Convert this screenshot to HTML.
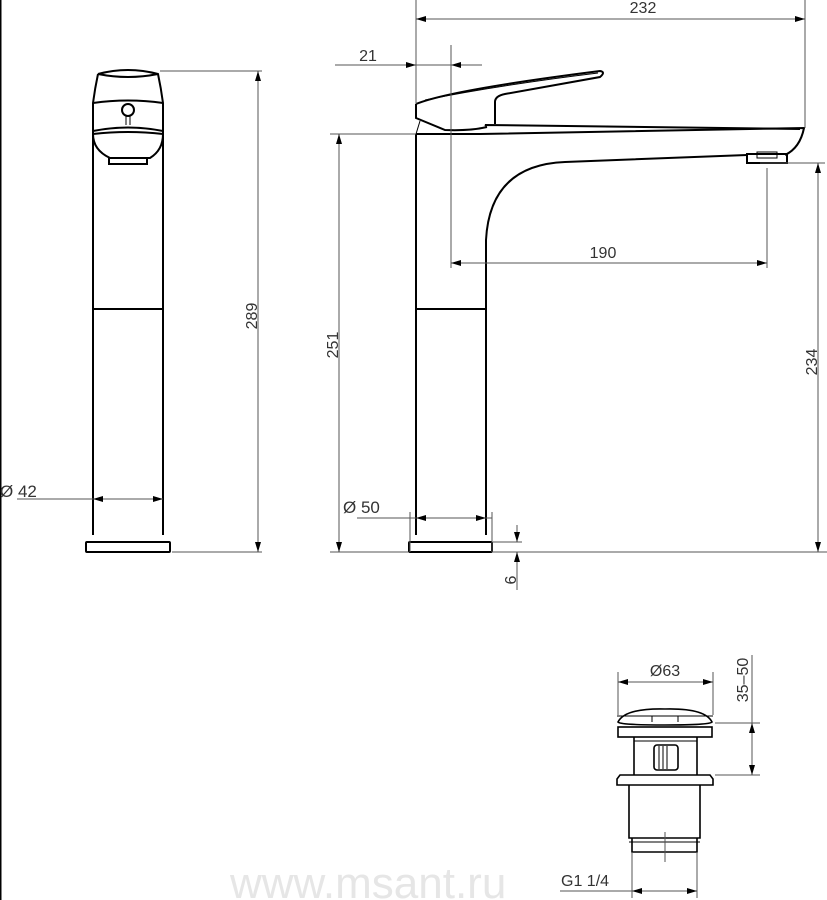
<!DOCTYPE html>
<html><head><meta charset="utf-8"><style>html,body{margin:0;padding:0;background:#fff;}svg{display:block}</style></head>
<body>
<svg width="827" height="900" viewBox="0 0 827 900" xmlns="http://www.w3.org/2000/svg" font-family="Liberation Sans, DejaVu Sans, sans-serif">
<defs>
<marker id="a" viewBox="0 0 10 6" refX="10" refY="3" markerWidth="10" markerHeight="6" markerUnits="userSpaceOnUse" orient="auto-start-reverse"><path d="M0,0L10,3L0,6z" fill="#000"/></marker>
</defs>
<line x1="0.5" y1="0" x2="0.5" y2="900" stroke="#000" stroke-width="2"/>
<text x="230" y="898" font-size="44" fill="#e6e6e6">www.msant.ru</text>

<!-- LEFT FAUCET -->
<g fill="none" stroke="#000" stroke-width="2">
<path d="M98,74 Q128,66 158,74 Q161,88 163,103 L163,535 M98,74 Q95,88 93,103 L93,535"/>
<path d="M98,74 Q128,80 158,74"/>
<path d="M93,103 Q128,98 163,103"/>
<path d="M93,131 Q128,124 163,131"/>
<circle cx="128" cy="110" r="6" fill="#fff"/>
<path d="M126,116 L126,125 M130,116 L130,125" stroke-width="1"/>
<path d="M93,134 Q128,130 163,134 Q163,150 150,158 L110,158 Q93,150 93,134z"/>
<rect x="109" y="158" width="38" height="6"/>
<line x1="93" y1="309" x2="163" y2="309"/>
<rect x="86" y="542" width="84" height="10" rx="1"/>
</g>
<g stroke="#555" stroke-width="1" fill="none">
<line x1="160" y1="71" x2="262" y2="71"/>
<line x1="172" y1="552" x2="262" y2="552"/>
<line x1="258" y1="71" x2="258" y2="552" marker-start="url(#a)" marker-end="url(#a)"/>
<line x1="17" y1="499" x2="163" y2="499"/>
<line x1="93" y1="499" x2="108" y2="499" marker-start="url(#a)"/>
<line x1="148" y1="499" x2="163" y2="499" marker-end="url(#a)"/>
</g>
<text x="0" y="497" font-size="17" fill="#333">Ø 42</text>
<text transform="translate(257,316) rotate(-90)" text-anchor="middle" font-size="16" fill="#333">289</text>

<!-- MIDDLE FAUCET -->
<g fill="none" stroke="#000" stroke-width="2">
<path d="M416,134 L416,535 M486,535 L486,240 Q490,165 565,162 L747,155"/>
<path d="M416,134 L480,134 L804,128 Q800,148 785,155"/>
<path d="M487,126 L485,125 L800,129"/>
<path d="M416,104 Q450,90 600,71 Q606,72 600,77 L505,94 Q495,96 495,102 L495,124"/>
<path d="M416,104 L416,118 L445,130 Q470,131 487,127"/>
<path d="M425,100 Q500,85 598,73" stroke-width="1"/>
<path d="M420,121 L416,134" stroke-width="1"/>
<rect x="747" y="154" width="40" height="9"/>
<rect x="757" y="152" width="20" height="6" stroke-width="1"/>
<line x1="416" y1="309" x2="486" y2="309"/>
<rect x="409" y="542" width="83" height="10" rx="1"/>
</g>
<g stroke="#555" stroke-width="1" fill="none">
<line x1="416" y1="0" x2="416" y2="104"/>
<line x1="805" y1="0" x2="805" y2="128"/>
<line x1="416" y1="19" x2="805" y2="19" marker-start="url(#a)" marker-end="url(#a)"/>
<line x1="335" y1="65" x2="482" y2="65"/>
<line x1="400" y1="65" x2="416" y2="65" marker-end="url(#a)"/>
<line x1="467" y1="65" x2="451" y2="65" marker-end="url(#a)"/>
<line x1="451" y1="45" x2="451" y2="268"/>
<line x1="767" y1="168" x2="767" y2="268"/>
<line x1="451" y1="263" x2="767" y2="263" marker-start="url(#a)" marker-end="url(#a)"/>
<line x1="760" y1="163" x2="825" y2="163"/>
<line x1="818" y1="163" x2="818" y2="552" marker-start="url(#a)" marker-end="url(#a)"/>
<line x1="330" y1="134" x2="416" y2="134"/>
<line x1="330" y1="552" x2="408" y2="552"/>
<line x1="339" y1="134" x2="339" y2="552" marker-start="url(#a)" marker-end="url(#a)"/>
<line x1="493" y1="552" x2="827" y2="552"/>
<line x1="357" y1="518" x2="492" y2="518"/>
<line x1="410" y1="512" x2="410" y2="552"/>
<line x1="492" y1="512" x2="492" y2="552"/>
<line x1="416" y1="518" x2="431" y2="518" marker-start="url(#a)"/>
<line x1="471" y1="518" x2="486" y2="518" marker-end="url(#a)"/>
<line x1="493" y1="542" x2="522" y2="542"/>
<line x1="517" y1="525" x2="517" y2="542" marker-end="url(#a)"/>
<line x1="517" y1="590" x2="517" y2="552" marker-end="url(#a)"/>
</g>
<text x="643" y="13" text-anchor="middle" font-size="16" fill="#333">232</text>
<text x="368" y="61" text-anchor="middle" font-size="16" fill="#333">21</text>
<text x="603" y="258" text-anchor="middle" font-size="16" fill="#333">190</text>
<text x="343" y="513" font-size="17" fill="#333">Ø 50</text>
<text transform="translate(817,362) rotate(-90)" text-anchor="middle" font-size="16" fill="#333">234</text>
<text transform="translate(338,345) rotate(-90)" text-anchor="middle" font-size="16" fill="#333">251</text>
<text transform="translate(516,580) rotate(-90)" text-anchor="middle" font-size="16" fill="#333">6</text>

<!-- DRAIN -->
<g fill="none" stroke="#000" stroke-width="1.6">
<path d="M618,722 Q625,708 665,709 Q705,708 712,722 Q710,725 665,725 Q620,725 618,722z"/>
<path d="M617,716 L713,716 M652,716 L652,722 M678,716 L678,722" stroke-width="1"/>
<rect x="618" y="727" width="94" height="10"/>
<line x1="634" y1="737" x2="634" y2="775"/><line x1="697" y1="737" x2="697" y2="775"/>
<line x1="634" y1="741" x2="697" y2="741" stroke-width="1"/>
<rect x="654" y="745" width="24" height="25" rx="3"/>
<path d="M659,746 L659,769 M663,746 L663,769 M667,746 L667,769" stroke-width="1"/>
<path d="M620,775 L710,775 L713,779 L713,785 L617,785 L617,779z"/>
<path d="M629,785 L629,838 L700,838 L700,785"/>
<path d="M632,838 L632,852 L697,852 L697,838"/>
<line x1="629" y1="842" x2="700" y2="842" stroke-width="1"/>
</g>
<g stroke="#555" stroke-width="1" fill="none">
<line x1="665" y1="832" x2="665" y2="862"/>
<line x1="618" y1="672" x2="618" y2="715"/>
<line x1="713" y1="672" x2="713" y2="715"/>
<line x1="618" y1="682" x2="713" y2="682" marker-start="url(#a)" marker-end="url(#a)"/>
<line x1="715" y1="723" x2="760" y2="723"/>
<line x1="715" y1="775" x2="760" y2="775"/>
<line x1="752" y1="655" x2="752" y2="775"/>
<line x1="752" y1="723" x2="752" y2="775" marker-start="url(#a)" marker-end="url(#a)"/>
<line x1="632" y1="852" x2="632" y2="898"/>
<line x1="697" y1="852" x2="697" y2="898"/>
<line x1="560" y1="891" x2="697" y2="891"/>
<line x1="632" y1="891" x2="697" y2="891" marker-start="url(#a)" marker-end="url(#a)"/>
</g>
<text x="665" y="676" text-anchor="middle" font-size="16" fill="#333">Ø63</text>
<text transform="translate(748,680) rotate(-90)" text-anchor="middle" font-size="16" fill="#333">35–50</text>
<text x="561" y="886" font-size="16" fill="#333">G1 1/4</text>
</svg>
</body></html>
